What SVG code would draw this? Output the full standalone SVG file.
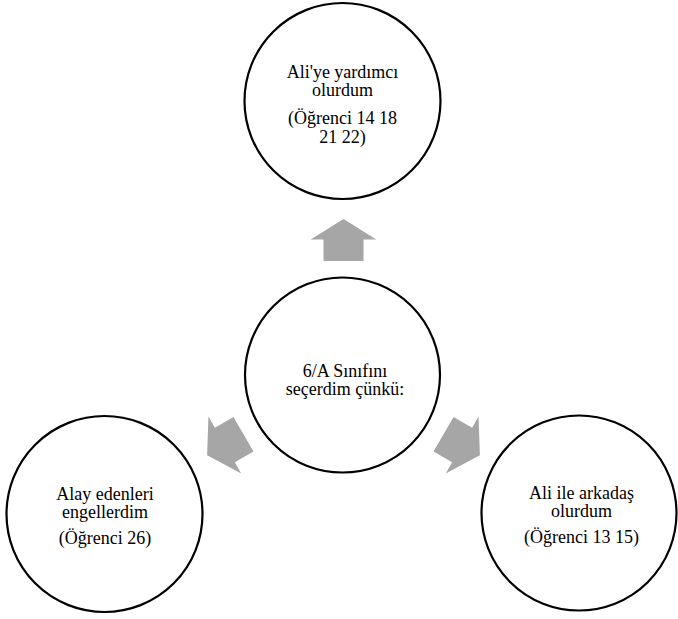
<svg xmlns="http://www.w3.org/2000/svg" width="678" height="619" viewBox="0 0 678 619">
<style>
.node circle{fill:#fff;stroke:#000;stroke-width:2.2}
.node text{font-size:18px;fill:#000;text-anchor:middle}
.arrow{fill:#a6a6a6;stroke:none}
</style>
<defs>
<polygon id="arr" class="arrow" points="343.5,219 376.3,239.5 363.5,239.5 363.5,261 323.5,261 323.5,239.5 310.7,239.5"/>
</defs>
<rect width="678" height="619" fill="#fff"/>
<g id="connectors">
<use href="#arr"/>
<use href="#arr" transform="rotate(120 343.5 376.5)"/>
<use href="#arr" transform="rotate(-120 343.5 376.5)"/>
</g>
<g font-family="Liberation Serif, Times New Roman, serif">
<g id="top" class="node">
<circle cx="342.5" cy="101" r="98"/>
<text x="342.5" y="78">Ali'ye yardımcı</text>
<text x="342.5" y="96">olurdum</text>
<text x="342.5" y="124">(Öğrenci 14 18</text>
<text x="342.5" y="143">21 22)</text>
</g>
<g id="center" class="node">
<circle cx="342.5" cy="375" r="97.5"/>
<text x="345" y="377">6/A Sınıfını</text>
<text x="345" y="395">seçerdim çünkü:</text>
</g>
<g id="left" class="node">
<circle cx="104.5" cy="514" r="98"/>
<text x="105" y="500">Alay edenleri</text>
<text x="105" y="518">engellerdim</text>
<text x="105" y="544">(Öğrenci 26)</text>
</g>
<g id="right" class="node">
<circle cx="579" cy="513" r="97.5"/>
<text x="581.5" y="499">Ali ile arkadaş</text>
<text x="581.5" y="517">olurdum</text>
<text x="581.5" y="543">(Öğrenci 13 15)</text>
</g>
</g>
</svg>
